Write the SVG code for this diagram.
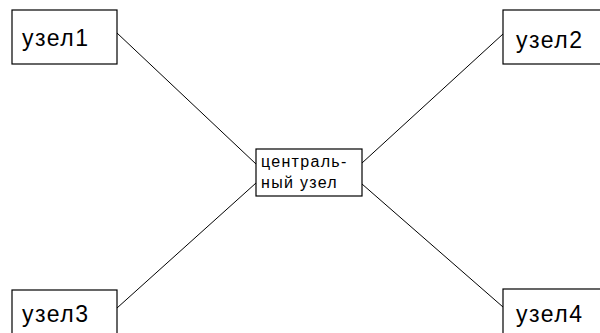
<svg xmlns="http://www.w3.org/2000/svg" width="600" height="333" viewBox="0 0 600 333">
<style>
.box{fill:#fff;stroke:#000;stroke-width:1.2}
.lbl{font-family:"Liberation Sans",Arial,sans-serif;font-size:23px;letter-spacing:1.5px;fill:#000}
.sm{font-family:"Liberation Sans",Arial,sans-serif;font-size:16px;letter-spacing:1.3px;fill:#000}
.ln{stroke:#000;stroke-width:1;fill:none}
</style>
<rect width="600" height="333" fill="#fff"/>
<g id="connectors">
<line class="ln" x1="117" y1="33" x2="256" y2="164"/>
<line class="ln" x1="503" y1="34" x2="362" y2="163"/>
<line class="ln" x1="117" y1="308" x2="256" y2="183"/>
<line class="ln" x1="503" y1="307" x2="362" y2="184"/>
</g>
<g id="node1">
<rect class="box" x="12" y="10" width="105" height="54"/>
<text class="lbl" x="22" y="46">узел1</text>
</g>
<g id="node2">
<rect class="box" x="503" y="10" width="105" height="54"/>
<text class="lbl" x="516" y="48">узел2</text>
</g>
<g id="node3">
<rect class="box" x="12" y="290" width="105" height="60"/>
<text class="lbl" x="22" y="322">узел3</text>
</g>
<g id="node4">
<rect class="box" x="503" y="289" width="105" height="60"/>
<text class="lbl" x="516" y="322">узел4</text>
</g>
<g id="center">
<rect class="box" x="256" y="149" width="106" height="47"/>
<text class="sm" x="261" y="167">централь-</text>
<text class="sm" x="261" y="188">ный узел</text>
</g>
</svg>
